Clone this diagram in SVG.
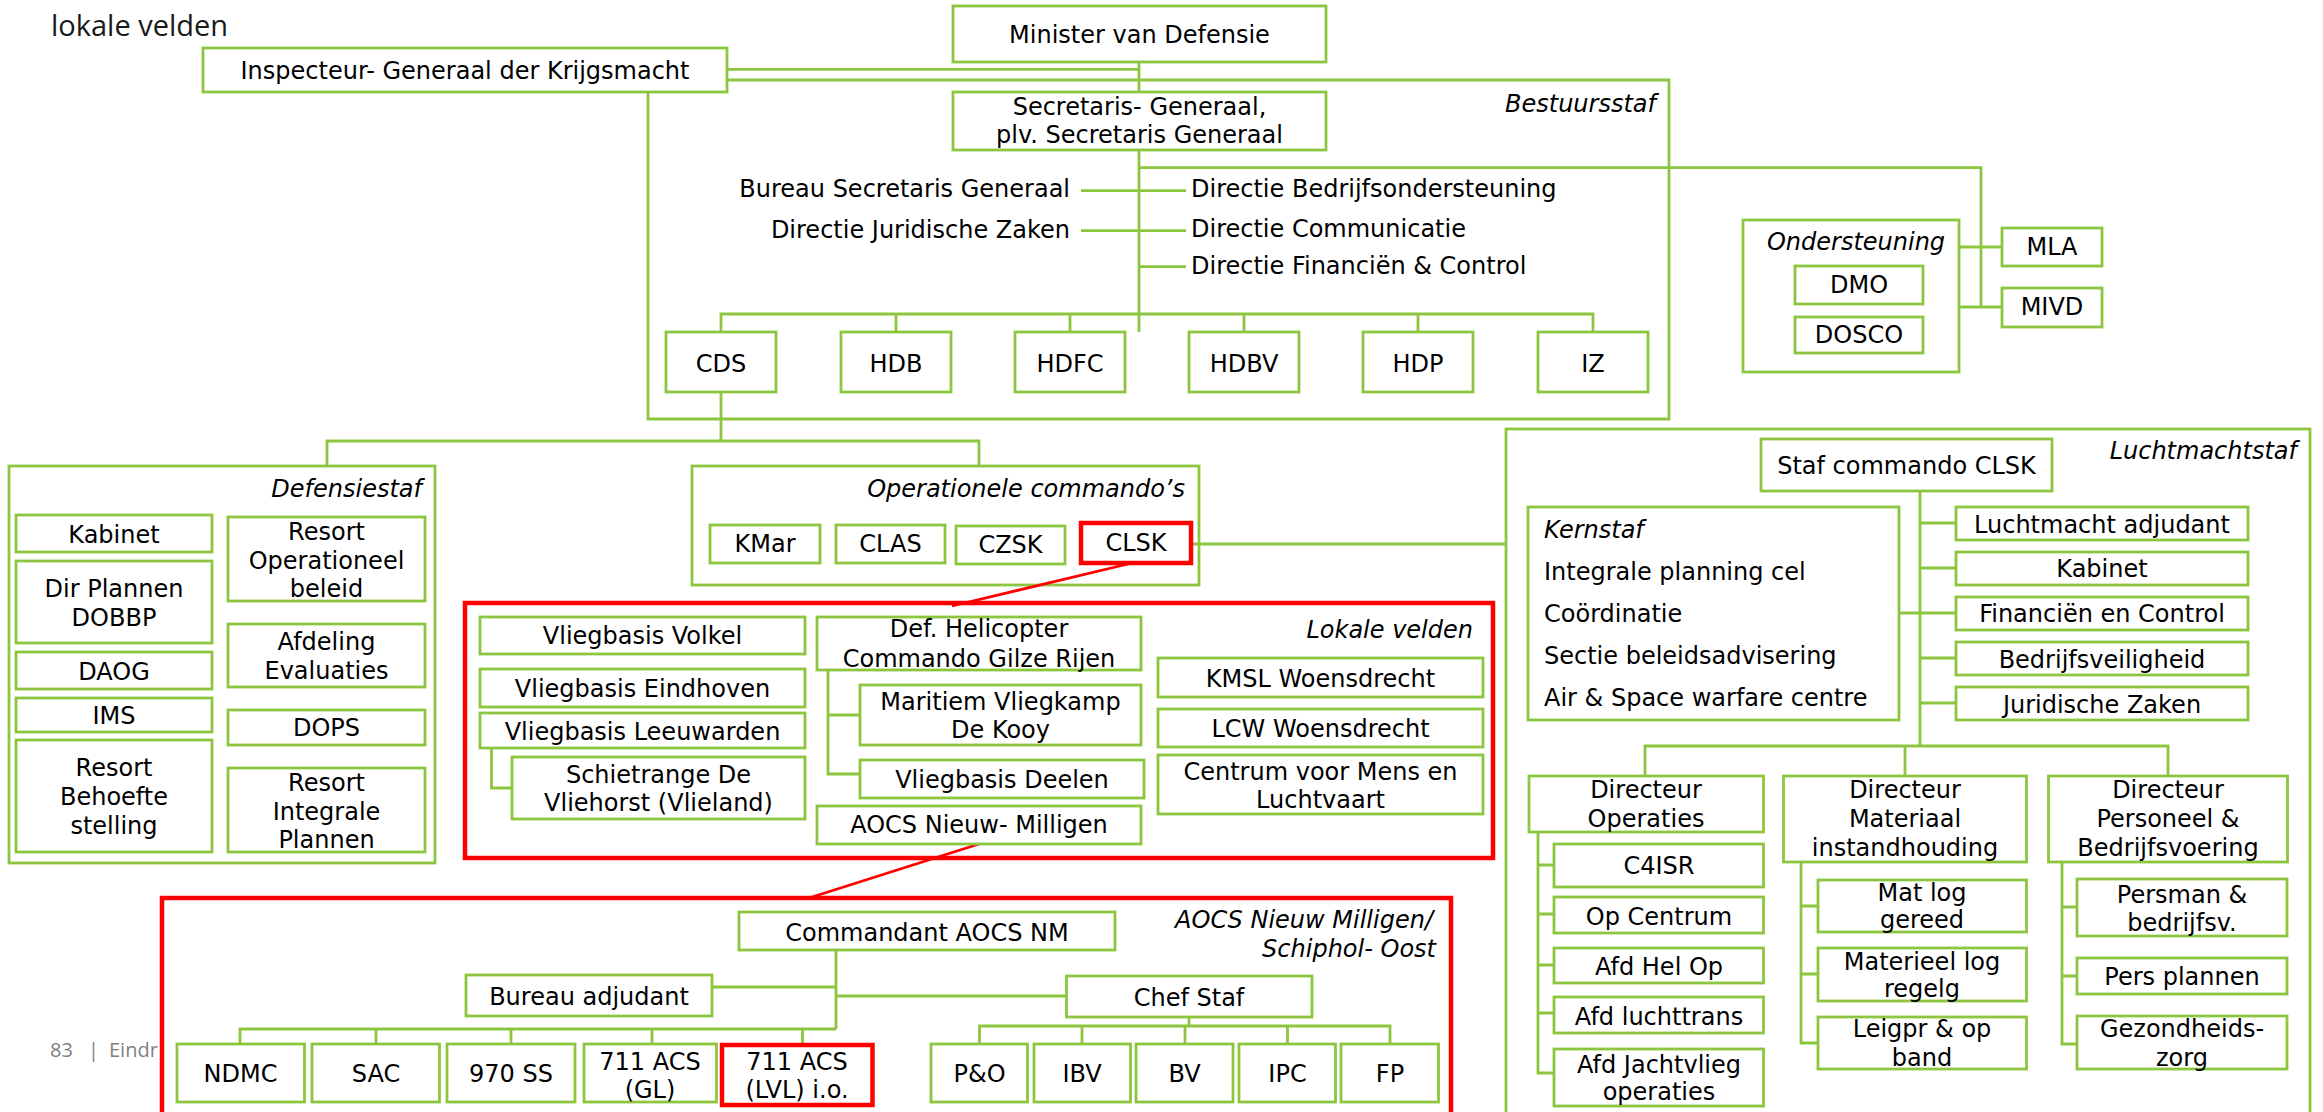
<svg xmlns="http://www.w3.org/2000/svg" width="2323" height="1112" viewBox="0 0 2323 1112">
<style>
.b{fill:#fff;stroke:#8CC63F;stroke-width:2.8}
.k{fill:none;stroke:#8CC63F;stroke-width:2.8}
.r{fill:#fff;stroke:#f00;stroke-width:4.5}
.rn{fill:none;stroke:#f00;stroke-width:4.5}
.c path{fill:none;stroke:#8CC63F;stroke-width:2.8}
.c path.red{stroke:#f00;stroke-width:2.8}
text{font-family:"DejaVu Sans",Verdana,sans-serif;font-size:24px;fill:#000}
.m{text-anchor:middle}
.e{text-anchor:end;font-style:italic}
.i{font-style:italic}
.t{font-family:"Open Sans","Liberation Sans",sans-serif;font-size:29px;fill:#1a1a1a}
.f{font-family:"Open Sans","Liberation Sans",sans-serif;font-size:20px;fill:#7f7f7f}
</style>
<rect width="2323" height="1112" fill="#fff"/>
<text class="t" x="51" y="36">lokale velden</text>
<text class="f" y="1057"><tspan x="50">83</tspan><tspan x="88">|</tspan><tspan x="109">Eindr</tspan></text>

<!-- containers -->
<g id="bestuursstaf"><path class="k" d="M726 80H1669V419H648V92"/><text class="e" x="1656" y="112">Bestuursstaf</text></g>
<g id="ondersteuning"><rect class="k" x="1743" y="220" width="216" height="152"/><text class="m i" x="1856" y="250">Ondersteuning</text></g>
<g id="defensiestaf"><rect class="k" x="9" y="466" width="426" height="397"/><text class="e" x="422" y="497">Defensiestaf</text></g>
<g id="operationele"><rect class="k" x="692" y="466" width="507" height="119"/><text class="e" x="1185" y="497">Operationele commando’s</text></g>
<g id="lokalevelden"><rect class="rn" x="465" y="603" width="1028" height="255"/><text class="e" x="1473" y="638">Lokale velden</text></g>
<g id="luchtmachtstaf"><rect class="k" x="1506" y="429" width="804" height="720"/><text class="e" x="2297" y="459">Luchtmachtstaf</text></g>
<g id="kernstaf"><rect class="k" x="1528" y="507" width="371" height="213"/>
<text class="i" x="1544" y="538">Kernstaf</text>
<text x="1544" y="580">Integrale planning cel</text>
<text x="1544" y="622">Coördinatie</text>
<text x="1544" y="664">Sectie beleidsadvisering</text>
<text x="1544" y="706">Air &amp; Space warfare centre</text></g>
<g id="aocs"><rect class="r" x="162" y="898" width="1289" height="260"/><text class="e" x="1433" y="928">AOCS Nieuw Milligen/</text><text class="e" x="1436" y="957">Schiphol- Oost</text></g>

<!-- connectors -->
<g class="c" id="connectors">
<path d="M726 69.3H1139"/>
<path d="M1139 62V332"/>
<path d="M1081 190.7H1186M1081 230.7H1186M1139 266.7H1186"/>
<path d="M1139 167.7H1981V307M1959 247H2002M1959 307H2002"/>
<path d="M721 332V314H1593V332M896 314V332M1070 314V332M1244 314V332M1418 314V332"/>
<path d="M721 392V441M327 466V441H979V466"/>
<path d="M1192 544H1506"/>
<path d="M491.5 748V788H512"/>
<path d="M828 670V774H860M828 715H860"/>
<path class="red" d="M1128 564L952 606"/>
<path class="red" d="M979 844L809 898"/>
<path d="M1920 491V746M1920 523H1956M1920 568H1956M1920 613H1956M1920 658H1956M1920 703H1956M1899 613H1920"/>
<path d="M1645 776V746H2168V776M1905 746V776"/>
<path d="M1538 832V1073H1554M1538 865H1554M1538 914H1554M1538 965H1554M1538 1013H1554"/>
<path d="M1801 862V1043H1818M1801 906H1818M1801 974H1818"/>
<path d="M2062 862V1044H2077M2062 907H2077M2062 976H2077"/>
<path d="M836 950V1029M712 987H836M836 996H1066"/>
<path d="M240 1044V1029H836M376 1029V1044M511 1029V1044M652 1029V1044M802.5 1029V1045"/>
<path d="M1189 1017V1026M979.5 1044V1026H1390V1044M1082 1026V1044M1185 1026V1044M1287.5 1026V1044"/>
</g>

<!-- top -->
<g id="inspecteur"><rect class="b" x="203" y="48" width="524" height="44"/><text class="m" x="465" y="79">Inspecteur- Generaal der Krijgsmacht</text></g>
<g id="minister"><rect class="b" x="953" y="6" width="373" height="56"/><text class="m" x="1139.5" y="43">Minister van Defensie</text></g>
<g id="secretaris"><rect class="b" x="953" y="92" width="373" height="58"/><text class="m" x="1139.5" y="115">Secretaris- Generaal,</text><text class="m" x="1139.5" y="143">plv. Secretaris Generaal</text></g>
<g id="bsg"><text text-anchor="end" x="1070" y="197">Bureau Secretaris Generaal</text></g>
<g id="djz"><text text-anchor="end" x="1070" y="238">Directie Juridische Zaken</text></g>
<g id="dbo"><text x="1191" y="197">Directie Bedrijfsondersteuning</text></g>
<g id="dc"><text x="1191" y="237">Directie Communicatie</text></g>
<g id="dfc"><text x="1191" y="274">Directie Financiën &amp; Control</text></g>
<g id="cds"><rect class="b" x="666" y="332" width="110" height="60"/><text class="m" x="721" y="372">CDS</text></g>
<g id="hdb"><rect class="b" x="841" y="332" width="110" height="60"/><text class="m" x="896" y="372">HDB</text></g>
<g id="hdfc"><rect class="b" x="1015" y="332" width="110" height="60"/><text class="m" x="1070" y="372">HDFC</text></g>
<g id="hdbv"><rect class="b" x="1189" y="332" width="110" height="60"/><text class="m" x="1244" y="372">HDBV</text></g>
<g id="hdp"><rect class="b" x="1363" y="332" width="110" height="60"/><text class="m" x="1418" y="372">HDP</text></g>
<g id="iz"><rect class="b" x="1538" y="332" width="110" height="60"/><text class="m" x="1593" y="372">IZ</text></g>
<g id="dmo"><rect class="b" x="1795" y="266" width="128" height="38"/><text class="m" x="1859" y="293">DMO</text></g>
<g id="dosco"><rect class="b" x="1795" y="317" width="128" height="36"/><text class="m" x="1859" y="343">DOSCO</text></g>
<g id="mla"><rect class="b" x="2002" y="228" width="100" height="38"/><text class="m" x="2052" y="255">MLA</text></g>
<g id="mivd"><rect class="b" x="2002" y="288" width="100" height="39"/><text class="m" x="2052" y="315">MIVD</text></g>

<!-- defensiestaf -->
<g id="kabinet1"><rect class="b" x="16" y="515" width="196" height="37"/><text class="m" x="114" y="543">Kabinet</text></g>
<g id="dobbp"><rect class="b" x="16" y="561" width="196" height="82"/><text class="m" x="114" y="597">Dir Plannen</text><text class="m" x="114" y="626">DOBBP</text></g>
<g id="daog"><rect class="b" x="16" y="652" width="196" height="37"/><text class="m" x="114" y="680">DAOG</text></g>
<g id="ims"><rect class="b" x="16" y="698" width="196" height="34"/><text class="m" x="114" y="724">IMS</text></g>
<g id="rbs"><rect class="b" x="16" y="740" width="196" height="112"/><text class="m" x="114" y="776">Resort</text><text class="m" x="114" y="805">Behoefte</text><text class="m" x="114" y="834">stelling</text></g>
<g id="rob"><rect class="b" x="228" y="517" width="197" height="84"/><text class="m" x="326.5" y="540">Resort</text><text class="m" x="326.5" y="569">Operationeel</text><text class="m" x="326.5" y="597">beleid</text></g>
<g id="afdev"><rect class="b" x="228" y="624" width="197" height="63"/><text class="m" x="326.5" y="650">Afdeling</text><text class="m" x="326.5" y="679">Evaluaties</text></g>
<g id="dops"><rect class="b" x="228" y="710" width="197" height="35"/><text class="m" x="326.5" y="736">DOPS</text></g>
<g id="rip"><rect class="b" x="228" y="768" width="197" height="84"/><text class="m" x="326.5" y="791">Resort</text><text class="m" x="326.5" y="820">Integrale</text><text class="m" x="326.5" y="848">Plannen</text></g>

<!-- operationele -->
<g id="kmar"><rect class="b" x="710" y="525" width="110" height="38"/><text class="m" x="765" y="552">KMar</text></g>
<g id="clas"><rect class="b" x="836" y="525" width="109" height="38"/><text class="m" x="890.5" y="552">CLAS</text></g>
<g id="czsk"><rect class="b" x="956" y="526" width="109" height="38"/><text class="m" x="1010.5" y="553">CZSK</text></g>
<g id="clsk"><rect class="r" x="1081" y="523" width="110" height="40"/><text class="m" x="1136" y="551">CLSK</text></g>

<!-- lokale velden -->
<g id="volkel"><rect class="b" x="480" y="617" width="325" height="37"/><text class="m" x="642.5" y="644">Vliegbasis Volkel</text></g>
<g id="eindhoven"><rect class="b" x="480" y="669" width="325" height="38"/><text class="m" x="642.5" y="697">Vliegbasis Eindhoven</text></g>
<g id="leeuwarden"><rect class="b" x="480" y="713" width="325" height="35"/><text class="m" x="642.5" y="740">Vliegbasis Leeuwarden</text></g>
<g id="schietrange"><rect class="b" x="512" y="757" width="293" height="62"/><text class="m" x="658.5" y="783">Schietrange De</text><text class="m" x="658.5" y="811">Vliehorst (Vlieland)</text></g>
<g id="dhc"><rect class="b" x="817" y="617" width="324" height="53"/><text class="m" x="979" y="637">Def. Helicopter</text><text class="m" x="979" y="667">Commando Gilze Rijen</text></g>
<g id="mvk"><rect class="b" x="860" y="685" width="281" height="60"/><text class="m" x="1000.5" y="710">Maritiem Vliegkamp</text><text class="m" x="1000.5" y="738">De Kooy</text></g>
<g id="deelen"><rect class="b" x="860" y="760" width="284" height="38"/><text class="m" x="1002" y="788">Vliegbasis Deelen</text></g>
<g id="aocsnm"><rect class="b" x="817" y="806" width="324" height="38"/><text class="m" x="979" y="833">AOCS Nieuw- Milligen</text></g>
<g id="kmsl"><rect class="b" x="1158" y="658" width="325" height="39"/><text class="m" x="1320.5" y="687">KMSL Woensdrecht</text></g>
<g id="lcw"><rect class="b" x="1158" y="709" width="325" height="38"/><text class="m" x="1320.5" y="737">LCW Woensdrecht</text></g>
<g id="centrum"><rect class="b" x="1158" y="755" width="325" height="59"/><text class="m" x="1320.5" y="780">Centrum voor Mens en</text><text class="m" x="1320.5" y="808">Luchtvaart</text></g>

<!-- luchtmachtstaf -->
<g id="stafclsk"><rect class="b" x="1761" y="439" width="291" height="52"/><text class="m" x="1906.5" y="474">Staf commando CLSK</text></g>
<g id="lmadj"><rect class="b" x="1956" y="507" width="292" height="33"/><text class="m" x="2102" y="533">Luchtmacht adjudant</text></g>
<g id="kabinet2"><rect class="b" x="1956" y="552" width="292" height="33"/><text class="m" x="2102" y="577">Kabinet</text></g>
<g id="fin"><rect class="b" x="1956" y="597" width="292" height="33"/><text class="m" x="2102" y="622">Financiën en Control</text></g>
<g id="bv1"><rect class="b" x="1956" y="642" width="292" height="33"/><text class="m" x="2102" y="668">Bedrijfsveiligheid</text></g>
<g id="jz"><rect class="b" x="1956" y="687" width="292" height="33"/><text class="m" x="2102" y="713">Juridische Zaken</text></g>
<g id="dirops"><rect class="b" x="1529" y="776" width="234.5" height="56"/><text class="m" x="1646" y="798">Directeur</text><text class="m" x="1646" y="827">Operaties</text></g>
<g id="dirmat"><rect class="b" x="1783.5" y="776" width="243" height="86"/><text class="m" x="1905" y="798">Directeur</text><text class="m" x="1905" y="827">Materiaal</text><text class="m" x="1905" y="856">instandhouding</text></g>
<g id="dirpers"><rect class="b" x="2048.5" y="776" width="239" height="86"/><text class="m" x="2168" y="798">Directeur</text><text class="m" x="2168" y="827">Personeel &amp;</text><text class="m" x="2168" y="856">Bedrijfsvoering</text></g>
<g id="c4isr"><rect class="b" x="1554" y="844" width="209.5" height="43"/><text class="m" x="1659" y="874">C4ISR</text></g>
<g id="opcentrum"><rect class="b" x="1554" y="897" width="209.5" height="36"/><text class="m" x="1659" y="925">Op Centrum</text></g>
<g id="afdhelop"><rect class="b" x="1554" y="948" width="209.5" height="35"/><text class="m" x="1659" y="975">Afd Hel Op</text></g>
<g id="afdlt"><rect class="b" x="1554" y="997" width="209.5" height="36"/><text class="m" x="1659" y="1025">Afd luchttrans</text></g>
<g id="afdjv"><rect class="b" x="1554" y="1049" width="209.5" height="57"/><text class="m" x="1659" y="1073">Afd Jachtvlieg</text><text class="m" x="1659" y="1100">operaties</text></g>
<g id="matlog"><rect class="b" x="1818" y="880" width="208.5" height="52"/><text class="m" x="1922" y="901">Mat log</text><text class="m" x="1922" y="928">gereed</text></g>
<g id="matreg"><rect class="b" x="1818" y="948" width="208.5" height="53"/><text class="m" x="1922" y="970">Materieel log</text><text class="m" x="1922" y="997">regelg</text></g>
<g id="leigpr"><rect class="b" x="1818" y="1017" width="208.5" height="52"/><text class="m" x="1922" y="1037">Leigpr &amp; op</text><text class="m" x="1922" y="1066">band</text></g>
<g id="persman"><rect class="b" x="2077" y="879" width="210" height="57"/><text class="m" x="2182" y="903">Persman &amp;</text><text class="m" x="2182" y="931">bedrijfsv.</text></g>
<g id="persplan"><rect class="b" x="2077" y="958" width="210" height="36"/><text class="m" x="2182" y="985">Pers plannen</text></g>
<g id="gezond"><rect class="b" x="2077" y="1016" width="210" height="53"/><text class="m" x="2182" y="1037">Gezondheids-</text><text class="m" x="2182" y="1066">zorg</text></g>

<!-- AOCS -->
<g id="cmdaocs"><rect class="b" x="739" y="912" width="376" height="38"/><text class="m" x="927" y="941">Commandant AOCS NM</text></g>
<g id="buradj"><rect class="b" x="466" y="975" width="246" height="41"/><text class="m" x="589" y="1005">Bureau adjudant</text></g>
<g id="chefstaf"><rect class="b" x="1066.5" y="976" width="245.5" height="41"/><text class="m" x="1189" y="1006">Chef Staf</text></g>
<g id="ndmc"><rect class="b" x="177" y="1044" width="127.5" height="58"/><text class="m" x="240.5" y="1082">NDMC</text></g>
<g id="sac"><rect class="b" x="312" y="1044" width="127.5" height="58"/><text class="m" x="376" y="1082">SAC</text></g>
<g id="ss970"><rect class="b" x="447" y="1044" width="128" height="58"/><text class="m" x="511" y="1082">970 SS</text></g>
<g id="acsgl"><rect class="b" x="584" y="1044" width="132.5" height="58"/><text class="m" x="650" y="1070">711 ACS</text><text class="m" x="650" y="1098">(GL)</text></g>
<g id="acslvl"><rect class="r" x="722" y="1045" width="150.5" height="60"/><text class="m" x="797" y="1070">711 ACS</text><text class="m" x="797" y="1098">(LVL) i.o.</text></g>
<g id="po"><rect class="b" x="931" y="1044" width="96.5" height="58"/><text class="m" x="979.5" y="1082">P&amp;O</text></g>
<g id="ibv"><rect class="b" x="1034" y="1044" width="96.5" height="58"/><text class="m" x="1082" y="1082">IBV</text></g>
<g id="bv2"><rect class="b" x="1136" y="1044" width="97" height="58"/><text class="m" x="1184.5" y="1082">BV</text></g>
<g id="ipc"><rect class="b" x="1239" y="1044" width="96.5" height="58"/><text class="m" x="1287.5" y="1082">IPC</text></g>
<g id="fp"><rect class="b" x="1341" y="1044" width="97.5" height="58"/><text class="m" x="1390" y="1082">FP</text></g>
</svg>
